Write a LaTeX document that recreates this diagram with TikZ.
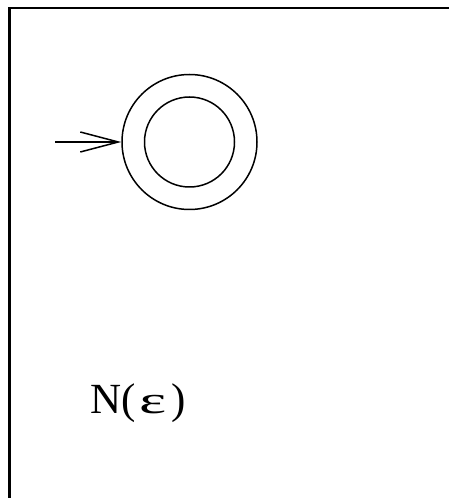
\documentclass[tikz,border=0pt]{standalone}
\usepackage{fontspec}
\usepackage{graphicx}
\setmainfont{Liberation Serif}
\usetikzlibrary{arrows.meta}
\begin{document}
\begin{tikzpicture}[x=1pt,y=1pt,
  state/.style={circle,draw,line width=1.5pt,inner sep=0pt},
  lbl/.style={font=\fontsize{43}{50}\selectfont,inner sep=0pt}]
\useasboundingbox (0,0) rectangle (449,498);
\coordinate (bl) at (9.5,-2);
\coordinate (tl) at (9.5,490);
\coordinate (tr) at (451,490);
\draw[line width=2.2pt] (bl) -- (tl) -- (tr);
\node[state,minimum size=135pt] (q) at (189.5,356) {};
\node[state,minimum size=90pt] (qi) at (q.center) {};
\coordinate (start) at (55,356);
\draw[line width=1.5pt,-{Straight Barb[length=38pt,width=20pt,line width=1.5pt]}] (start) -- (q.west);
\node[lbl,anchor=base west] (t) at (90,84) {N(\kern4pt\scalebox{1.5}[0.9]{ε}\kern5pt)};
\end{tikzpicture}
\end{document}
